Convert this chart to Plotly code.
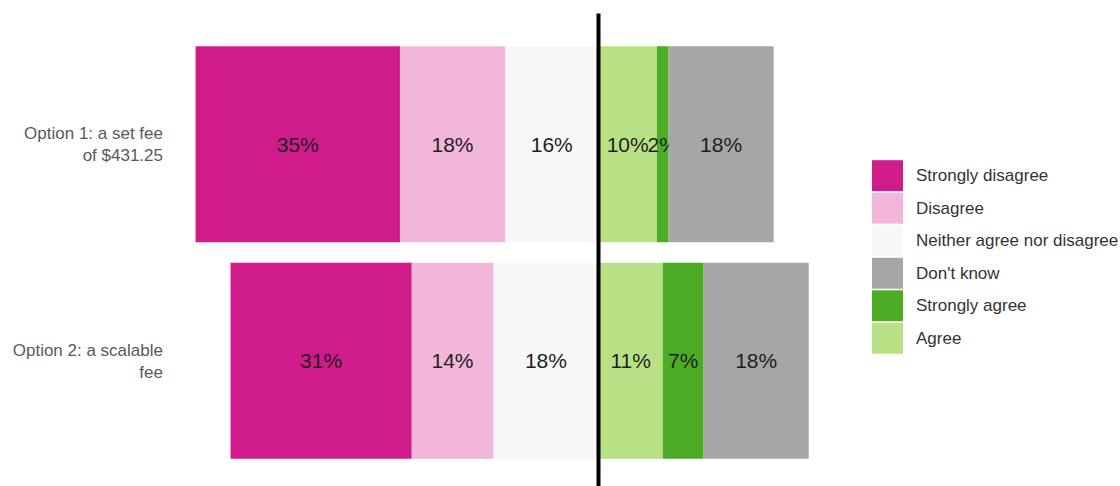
import plotly.graph_objects as go

# Survey responses (percent of respondents) for each fee option
options = ["Option 1: a set fee<br>of $431.25", "Option 2: a scalable<br>fee"]

strongly_disagree = [35, 31]
disagree = [18, 14]
neither = [16, 18]
agree = [10, 11]
strongly_agree = [2, 7]
dont_know = [18, 18]

# Stacking order: disagreeing answers extend left of zero, the rest right
series = [
    ("Neither agree nor disagree", neither, -1, "#F7F7F7"),
    ("Disagree", disagree, -1, "#F1B6DA"),
    ("Strongly disagree", strongly_disagree, -1, "#D01C8B"),
    ("Agree", agree, 1, "#B8E186"),
    ("Strongly agree", strongly_agree, 1, "#4DAC26"),
    ("Don't know", dont_know, 1, "#A6A6A6"),
]
legend_order = ["Strongly disagree", "Disagree", "Neither agree nor disagree",
                "Don't know", "Strongly agree", "Agree"]

W, H = 1120, 486
M_L, M_R, M_T, M_B = 170, 270, 35.5, 16.5
FONT = "Liberation Sans, Arial, sans-serif"

fig = go.Figure()
for name, vals, sign, color in series:
    fig.add_trace(go.Bar(
        y=options,
        x=[sign * v for v in vals],
        orientation="h",
        name=name,
        marker=dict(color=color, line=dict(width=0)),
        text=[f"{v}%" for v in vals],
        textposition="inside",
        insidetextanchor="middle",
        constraintext="none",
        textangle=0,
        textfont=dict(family=FONT, size=21, color="#1E1E1E"),
        hoverinfo="skip",
        showlegend=False,
    ))

plot_w = W - M_L - M_R
plot_h = H - M_T - M_B


def px_x(px):
    return (px - M_L) / plot_w


def px_y(py):
    return (H - M_B - py) / plot_h


# Zero divider line, running past the plot area
fig.add_shape(type="line", xref="x", yref="paper", x0=0, x1=0,
              y0=px_y(490), y1=px_y(13), line=dict(color="black", width=4),
              layer="above")

# Legend drawn as large swatches with labels
colors = {name: color for name, _, _, color in series}
sw_x0, sw_size, sw_top, sw_pitch = 872, 31, 160, 32.6
for i, name in enumerate(legend_order):
    top = sw_top + i * sw_pitch
    fig.add_shape(type="rect", xref="paper", yref="paper",
                  x0=px_x(sw_x0), x1=px_x(sw_x0 + sw_size),
                  y0=px_y(top + sw_size), y1=px_y(top),
                  fillcolor=colors[name], line=dict(width=0))
    fig.add_annotation(xref="paper", yref="paper", x=px_x(914),
                       y=px_y(top + sw_size / 2), text=name, showarrow=False,
                       xanchor="left", yanchor="middle",
                       font=dict(family=FONT, size=17, color="#333333"))

fig.update_layout(
    width=W, height=H,
    margin=dict(l=M_L, r=M_R, t=M_T, b=M_B),
    barmode="relative",
    bargap=0.095,
    paper_bgcolor="white",
    plot_bgcolor="white",
    showlegend=False,
    xaxis=dict(range=[-(598.5 - M_L) / 5.84, (M_L + plot_w - 598.5) / 5.84],
               showgrid=False, zeroline=False, showticklabels=False,
               showline=False, fixedrange=True),
    yaxis=dict(autorange="reversed", showgrid=False, zeroline=False,
               showline=False, ticks="", ticklabelstandoff=6,
               tickfont=dict(family=FONT, size=17, color="#595959")),
)

fig.write_html("out.html")
